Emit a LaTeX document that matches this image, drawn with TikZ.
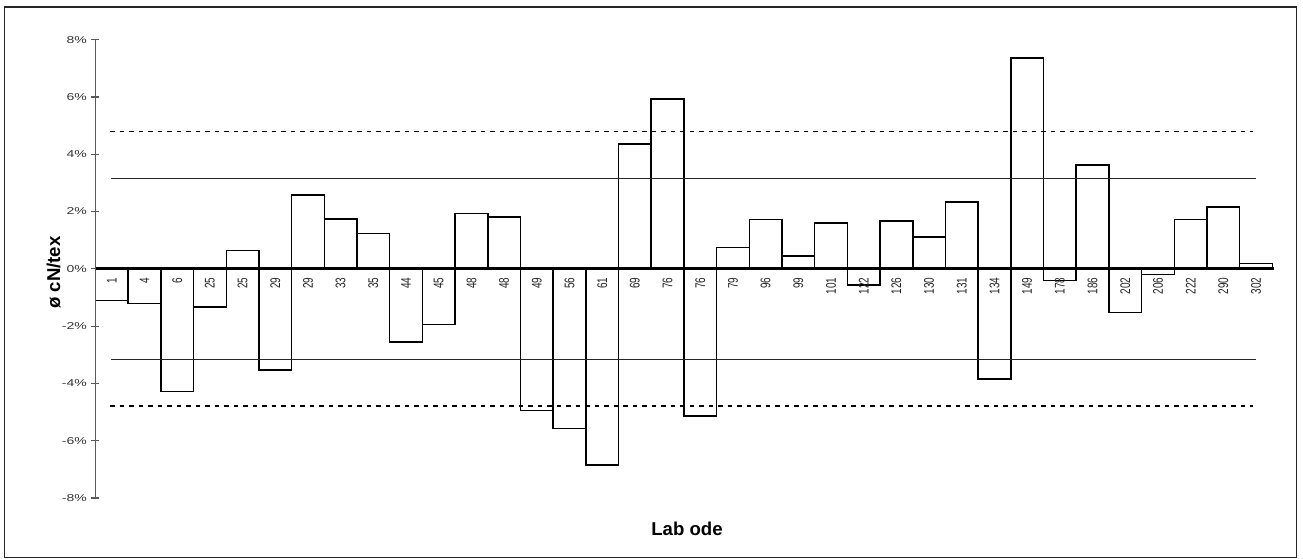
\documentclass[tikz,border=0pt]{standalone}
\usepackage{graphicx}
\usepackage{fontspec}
\setmainfont{Liberation Sans}
\newcommand{\wideTxt}[1]{\scalebox{1.4}[1]{#1}}
\newcommand{\tallTxt}[1]{\scalebox{1}[1.4]{#1}}
\begin{document}
\begin{tikzpicture}[x=1pt,y=-1pt,
  frame/.style={draw=black!85,line width=1.3pt},
  bar/.style={draw=black,fill=white,line width=1.5pt},
  yaxis/.style={draw=black!65,line width=1.2pt},
  zeroline/.style={draw=black,line width=3pt},
  limitline/.style={draw=black!85,line width=1pt},
  warnline/.style={draw=black,line width=1.7pt,dash pattern=on 4.5pt off 5pt},
  ticklabel/.style={anchor=east,inner sep=0pt,text=black!80,font=\fontsize{10}{12}\selectfont},
  barlabel/.style={anchor=east,rotate=90,inner sep=0pt,text=black!85,font=\fontsize{10}{12}\selectfont},
  axtitle/.style={inner sep=0pt,font=\bfseries\fontsize{18.6}{20}\selectfont}]
\useasboundingbox (0,0) rectangle (1303,558);
\draw[frame] (4.5,7) rectangle (1296.5,557.3);
% mapping: y = 268.8 - 28.65*v
\def\yz{268.8}
\def\ys{28.65}
\def\xo{95.5}
\def\bw{32.69}
% bars
\foreach \lab/\v [count=\i from 0] in {1/-1.10,4/-1.21,6/-4.29,25/-1.33,25/0.64,29/-3.54,29/2.58,33/1.73,35/1.24,44/-2.55,45/-1.94,48/1.93,48/1.80,49/-4.95,56/-5.57,61/-6.85,69/4.36,76/5.92,76/-5.13,79/0.74,96/1.72,99/0.44,101/1.60,122/-0.57,126/1.67,130/1.11,131/2.33,134/-3.85,149/7.36,178/-0.40,186/3.62,202/-1.53,206/-0.20,222/1.72,290/2.15,302/0.18}{
  \pgfmathsetmacro{\xa}{\xo+\i*\bw}
  \pgfmathsetmacro{\xb}{\xo+(\i+1)*\bw}
  \pgfmathsetmacro{\xc}{\xo+(\i+0.5)*\bw}
  \pgfmathsetmacro{\ye}{\yz-\ys*\v}
  \draw[bar] (\xa,\yz) rectangle (\xb,\ye);
  \coordinate (b\i) at (\xc,277.5);
}
% limit lines
\coordinate (ul0) at (111,178);
\coordinate (ul1) at (1256,178);
\coordinate (ll0) at (111,359.5);
\coordinate (ll1) at (1256,359.5);
\coordinate (uw0) at (110,131.5);
\coordinate (uw1) at (1253,131.5);
\coordinate (lw0) at (110,406);
\coordinate (lw1) at (1253,406);
\draw[limitline] (ul0) -- (ul1);
\draw[limitline] (ll0) -- (ll1);
\draw[warnline] (uw0) -- (uw1);
\draw[warnline] (lw0) -- (lw1);
% y axis
\coordinate (yt) at (95.5,40);
\coordinate (yb) at (95.5,498);
\draw[yaxis] (yt) -- (yb);
\foreach \t/\tl in {8/8\%,6/6\%,4/4\%,2/2\%,0/0\%,-2/-2\%,-4/-4\%,-6/-6\%,-8/-8\%}{
  \pgfmathsetmacro{\yy}{\yz-\ys*\t}
  \draw[yaxis] (91,\yy) -- (99,\yy);
  \node[ticklabel] (t\t) at (87,\yy) {\wideTxt{\tl}};
}
% zero line
\coordinate (z0) at (95.5,\yz);
\coordinate (z1) at (1273.5,\yz);
\draw[zeroline] (z0) -- (z1);
% bar labels
\foreach \lab [count=\i from 0] in {1,4,6,25,25,29,29,33,35,44,45,48,48,49,56,61,69,76,76,79,96,99,101,122,126,130,131,134,149,178,186,202,206,222,290,302}{
  \node[barlabel] (l\i) at (b\i) {\tallTxt{\lab}};
}
% titles
\node[axtitle,anchor=base] (xt) at (687,535) {Lab ode};
\node[axtitle,anchor=base,rotate=90] (ytl) at (60,272.5) {ø cN/tex};
\end{tikzpicture}
\end{document}
